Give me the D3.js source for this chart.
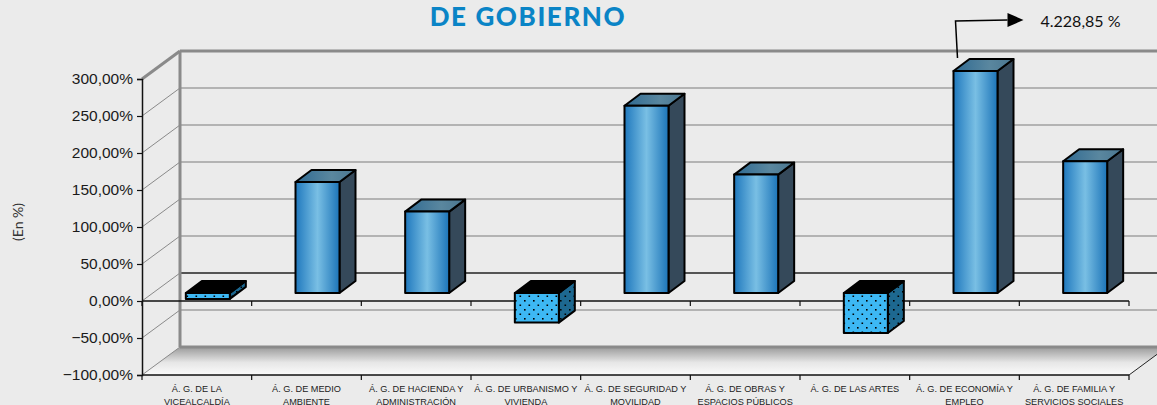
<!DOCTYPE html>
<html lang="es">
<head>
<meta charset="UTF-8">
<title>Áreas de gobierno</title>
<script src="https://cdn.jsdelivr.net/npm/d3@7/dist/d3.min.js"></script>
<style>
  html, body { margin: 0; padding: 0; background: #ebebeb; }
  svg { display: block; }
</style>
</head>
<body>
<svg id="chart" width="1157" height="405"></svg>
<script>
// data
const categories = [
  ["Á. G. DE LA", "VICEALCALDÍA"],
  ["Á. G. DE MEDIO", "AMBIENTE"],
  ["Á. G. DE HACIENDA Y", "ADMINISTRACIÓN"],
  ["Á. G. DE URBANISMO Y", "VIVIENDA"],
  ["Á. G. DE SEGURIDAD Y", "MOVILIDAD"],
  ["Á. G. DE OBRAS Y", "ESPACIOS PÚBLICOS"],
  ["Á. G. DE LAS ARTES"],
  ["Á. G. DE ECONOMÍA Y", "EMPLEO"],
  ["Á. G. DE FAMILIA Y", "SERVICIOS SOCIALES"]
];
const values = [-8, 150, 110, -40, 253, 160, -54, 4228.85, 178];
const yTicks = [-100, -50, 0, 50, 100, 150, 200, 250, 300];
const titleText = "DE GOBIERNO";
const yTitle = "(En %)";
const outlierLabel = "4.228,85 %";

const svg = d3.select("#chart");
const keys = categories.map((d, i) => i);

// geometry of the 3d box
const wallDx = 38, wallDy = -28;   // depth of the plot
const barOffX = 11, barOffY = -8;  // bar front sits in middle of depth
const barDx = 16, barDy = -12;     // depth of a bar

const x = d3.scaleBand().domain(keys).range([142, 1129]).paddingInner(0).paddingOuter(0);
const y = d3.scaleLinear().domain([-100, 300]).range([375, 79]);
const fmt = v => d3.format(".2f")(v).replace(".", ",") + "%";

const defs = svg.append("defs");
const floorGrad = defs.append("linearGradient").attr("id", "floor").attr("x1", 0).attr("x2", 0).attr("y1", 0).attr("y2", 1);
floorGrad.append("stop").attr("offset", "0%").attr("stop-color", "#9a9a9a");
floorGrad.append("stop").attr("offset", "55%").attr("stop-color", "#e6e6e6");
floorGrad.append("stop").attr("offset", "100%").attr("stop-color", "#fbfbfb");

const frontGrad = defs.append("linearGradient").attr("id", "front").attr("x1", 0).attr("x2", 1).attr("y1", 0).attr("y2", 0);
frontGrad.append("stop").attr("offset", "0%").attr("stop-color", "#1f78bd");
frontGrad.append("stop").attr("offset", "50%").attr("stop-color", "#79bfe4");
frontGrad.append("stop").attr("offset", "100%").attr("stop-color", "#1c74b8");

const topGrad = defs.append("linearGradient").attr("id", "topf").attr("x1", 0).attr("x2", 1).attr("y1", 0).attr("y2", 0);
topGrad.append("stop").attr("offset", "0%").attr("stop-color", "#2f6a92");
topGrad.append("stop").attr("offset", "60%").attr("stop-color", "#5a879f");
topGrad.append("stop").attr("offset", "100%").attr("stop-color", "#4a7690");

function dots(id, bg) {
  const p = defs.append("pattern").attr("id", id).attr("patternUnits", "userSpaceOnUse")
    .attr("width", 9).attr("height", 9);
  p.append("rect").attr("width", 9).attr("height", 9).attr("fill", bg);
  p.append("rect").attr("x", 2).attr("y", 3).attr("width", 1.6).attr("height", 1.6).attr("fill", "#000");
  p.append("rect").attr("x", 6.5).attr("y", 7.5).attr("width", 1.6).attr("height", 1.6).attr("fill", "#000");
}
dots("negFront", "#3db8f4");
dots("negSide", "#1d6890");

// walls
const x0 = x.range()[0], x1 = x.range()[1];
const yTop = y(300), yBot = y(-100);
const g = svg.append("g");

// floor
g.append("polygon")
  .attr("points", [[x0, yBot], [x1, yBot], [x1 + wallDx, yBot + wallDy], [x0 + wallDx, yBot + wallDy]].join(" "))
  .attr("fill", "url(#floor)");

// back wall gridlines
g.selectAll(".grid").data(yTicks).join("line")
  .attr("x1", x0 + wallDx).attr("x2", x1 + wallDx)
  .attr("y1", d => y(d) + wallDy).attr("y2", d => y(d) + wallDy)
  .attr("stroke", d => d === 0 ? "#222" : (d === -100 || d === 300 ? "#8a8a8a" : "#a0a0a0"))
  .attr("stroke-width", d => (d === -100 || d === 300) ? 3 : 1.5);

// side wall diagonals
g.selectAll(".diag").data(yTicks).join("line")
  .attr("x1", x0).attr("x2", x0 + wallDx)
  .attr("y1", d => y(d)).attr("y2", d => y(d) + wallDy)
  .attr("stroke", "#8a8a8a")
  .attr("stroke-width", d => d === 300 ? 3 : 1);

// back wall left edge
g.append("line")
  .attr("x1", x0 + wallDx).attr("x2", x0 + wallDx)
  .attr("y1", yTop + wallDy).attr("y2", yBot + wallDy)
  .attr("stroke", "#8a8a8a").attr("stroke-width", 3);

// floor right edge
g.append("line")
  .attr("x1", x1).attr("y1", yBot).attr("x2", x1 + wallDx).attr("y2", yBot + wallDy)
  .attr("stroke", "#222").attr("stroke-width", 1);

// category lines at zero and at floor, with ticks at band edges
const edges = keys.map(k => x(k)).concat([x1]);
[0, -100].forEach(v => {
  g.append("line").attr("x1", x0).attr("x2", x1).attr("y1", y(v)).attr("y2", y(v))
    .attr("stroke", "#111").attr("stroke-width", 1.5);
  g.selectAll(null).data(edges).join("line")
    .attr("x1", d => d).attr("x2", d => d)
    .attr("y1", y(v)).attr("y2", y(v) + 5)
    .attr("stroke", "#111").attr("stroke-width", 1.2);
});

// y axis
const yAxis = d3.axisLeft(y).tickValues(yTicks).tickFormat(fmt).tickSize(5).tickPadding(4);
const ya = svg.append("g").attr("transform", `translate(${x0},0)`).call(yAxis);
ya.select(".domain").attr("stroke", "#111").attr("stroke-width", 1.5);
ya.selectAll(".tick line").attr("stroke", "#111").attr("stroke-width", 1.2);
ya.selectAll(".tick text")
  .attr("font-family", "Liberation Sans, Arial, sans-serif")
  .attr("font-size", 15.5).attr("fill", "#1a1a1a");

// bars
const bw = 44;
const bars = svg.append("g");
keys.forEach(i => {
  const v = Math.max(-100, Math.min(300, values[i]));
  const bx = x(i) + x.bandwidth() / 2 - bw / 2 + barOffX;
  const yHi = y(Math.max(v, 0)) + barOffY;
  const yLo = y(Math.min(v, 0)) + barOffY;
  const neg = values[i] < 0;
  const bg = bars.append("g").attr("stroke", "#000").attr("stroke-width", 2).attr("stroke-linejoin", "round");
  bg.append("polygon")
    .attr("points", [[bx + bw, yHi], [bx + bw + barDx, yHi + barDy], [bx + bw + barDx, yLo + barDy], [bx + bw, yLo]].join(" "))
    .attr("fill", neg ? "url(#negSide)" : "#35495a");
  bg.append("polygon")
    .attr("points", [[bx, yHi], [bx + barDx, yHi + barDy], [bx + bw + barDx, yHi + barDy], [bx + bw, yHi]].join(" "))
    .attr("fill", neg ? "#000" : "url(#topf)");
  bg.append("rect")
    .attr("x", bx).attr("y", yHi).attr("width", bw).attr("height", Math.max(0, yLo - yHi))
    .attr("fill", neg ? "url(#negFront)" : "url(#front)");
  if (values[i] > 300) {
    // outlier pointer
    const ax = bx + 4, ay = yHi - 13;
    svg.append("polyline")
      .attr("points", [[ax, ay], [ax - 2, ay - 37], [ax + 50, ay - 38]].join(" "))
      .attr("fill", "none").attr("stroke", "#000").attr("stroke-width", 1.5);
    svg.append("polygon")
      .attr("points", [[ax + 50, ay - 45], [ax + 66, ay - 38], [ax + 50, ay - 31]].join(" "))
      .attr("fill", "#000");
    svg.append("text").attr("x", ax + 83).attr("y", ay - 31)
      .attr("font-family", "Lato, Open Sans, sans-serif").attr("font-size", 16)
      .attr("fill", "#111").text(outlierLabel);
  }
});

// category labels
const lab = svg.append("g")
  .attr("font-family", "Liberation Sans, Arial, sans-serif")
  .attr("font-size", 9.2).attr("fill", "#222").attr("text-anchor", "middle");
keys.forEach(i => {
  const t = lab.append("text").attr("x", x(i) + x.bandwidth() / 2).attr("y", 392);
  categories[i].forEach((line, j) => {
    t.append("tspan").attr("x", x(i) + x.bandwidth() / 2).attr("dy", j === 0 ? 0 : 12.5).text(line);
  });
});

// titles
svg.append("text").attr("x", 528).attr("y", 26)
  .attr("text-anchor", "middle")
  .attr("font-family", "Lato, Open Sans, sans-serif").attr("font-weight", 900)
  .attr("font-size", 26).attr("letter-spacing", 1.6)
  .attr("fill", "#0a84c6").text(titleText);

svg.append("text")
  .attr("transform", "translate(23,222) rotate(-90)")
  .attr("text-anchor", "middle")
  .attr("font-family", "Lato, Open Sans, sans-serif")
  .attr("font-size", 14).attr("fill", "#333").text(yTitle);
</script>
</body>
</html>
